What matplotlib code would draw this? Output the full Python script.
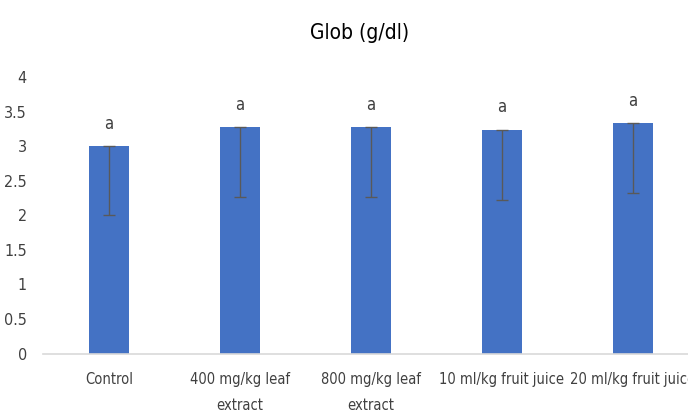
import matplotlib.pyplot as plt

groups = ["Control", "400 mg/kg leaf\nextract", "800 mg/kg leaf\nextract",
          "10 ml/kg fruit juice", "20 ml/kg fruit juice"]
glob = [3.00, 3.28, 3.28, 3.24, 3.33]
err_low = [1.00, 1.01, 1.01, 1.02, 1.01]
letters = ["a", "a", "a", "a", "a"]

plt.rcParams['font.family'] = ['DejaVu Sans']
plt.rcParams['font.stretch'] = 'condensed'
txt = '#404040'

fig = plt.figure(figsize=(6.88, 4.16), dpi=100)
ax = fig.add_axes([0.0632, 0.150, 0.952, 0.665])

x = range(len(groups))
ax.bar(x, glob, width=0.305, color='#4472C4', zorder=2)
ax.errorbar(x, glob, yerr=[err_low, [0]*len(glob)], fmt='none',
            ecolor='#595959', elinewidth=1, capsize=4, capthick=1, zorder=3)

for i, (v, t) in enumerate(zip(glob, letters)):
    ax.text(i, v + 0.19, t, ha='center', va='bottom', fontsize=12, color=txt)

ax.set_xlim(-0.5, len(groups) - 0.5)
ax.set_ylim(0, 4)
ax.set_yticks([0, 0.5, 1, 1.5, 2, 2.5, 3, 3.5, 4])
ax.set_yticklabels(['0', '0.5', '1', '1.5', '2', '2.5', '3', '3.5', '4'])
ax.set_xticks(list(x))
ax.set_xticklabels(groups, linespacing=1.95, va='top')

for s in ['top', 'right', 'left']:
    ax.spines[s].set_visible(False)
ax.spines['bottom'].set_color('#D9D9D9')
ax.spines['bottom'].set_linewidth(1.2)
ax.tick_params(axis='both', length=0, colors=txt)
ax.tick_params(axis='y', pad=12, labelsize=11.5)
ax.tick_params(axis='x', pad=13, labelsize=10.5)

fig.text(0.523, 0.92, "Glob (g/dl)", ha='center', va='center',
         fontsize=15, color='#000000')

fig.savefig('out.png', dpi=100)
